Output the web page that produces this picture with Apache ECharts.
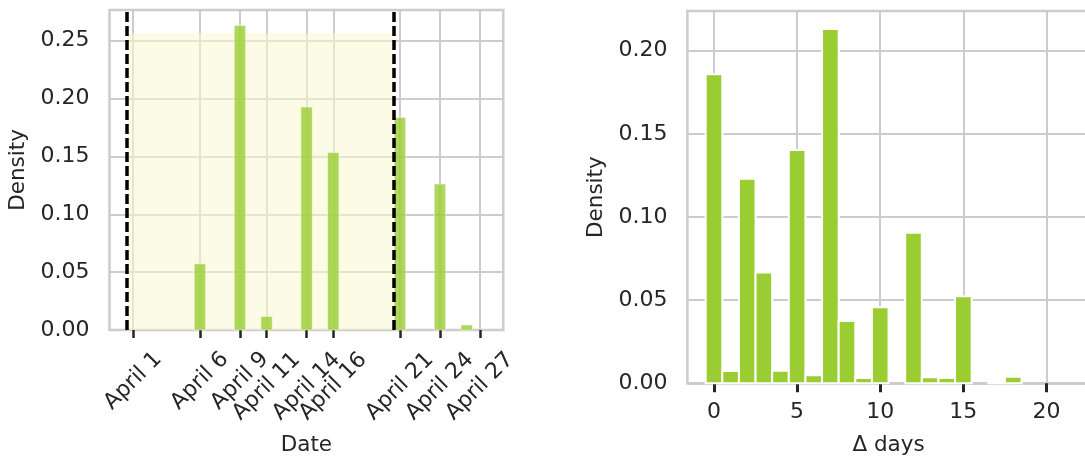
<!DOCTYPE html>
<html lang="en">
<head>
<meta charset="UTF-8">
<title>Density</title>
<style>
  html, body { margin: 0; padding: 0; background: #fff; }
  #main { width: 1085px; height: 458px; }
</style>
<script src="https://cdn.jsdelivr.net/npm/echarts@6/dist/echarts.min.js"></script>
</head>
<body>
<div id="main"></div>
<script>
// left panel: density per day of April
const dateDays = [6, 9, 11, 14, 16, 21, 24, 26];
const dateDensity = [0.0572, 0.2632, 0.0117, 0.1926, 0.1534, 0.1837, 0.1261, 0.0043];
const dateTicks = [1, 6, 9, 11, 14, 16, 21, 24, 27];
const windowStart = 0.55;
const windowEnd = 20.5;
const windowTop = 0.2564;

// right panel: density per delta in days
const deltaDays = [0, 1, 2, 3, 4, 5, 6, 7, 8, 9, 10, 11, 12, 13, 14, 15, 16, 17, 18, 19, 20, 21];
const deltaDensity = [0.1858, 0.0074, 0.1230, 0.0667, 0.0076, 0.1403, 0.0048, 0.2130, 0.0375, 0.0032,
  0.0457, 0, 0.0906, 0.0036, 0.0032, 0.0523, 0, 0.0010, 0.0040, 0, 0, 0];
const deltaTicks = [0, 5, 10, 15, 20];

const FONT = 'DejaVu Sans';
const TEXT = '#262626';
const GRID_LINE = '#cccccc';
const TICK_SIZE = 22;
const NAME_SIZE = 21.5;

const shortTicks = dateTicks.filter(d => d < 10);
const longTicks = dateTicks.filter(d => d >= 10);

function histItem(halfWidth, style) {
  return function (params, api) {
    const x = api.value(0), y = api.value(1);
    if (!y) return null;
    const a = api.coord([x - halfWidth, y]);
    const b = api.coord([x + halfWidth, 0]);
    return {
      type: 'rect',
      shape: { x: a[0], y: a[1], width: b[0] - a[0], height: b[1] - a[1] },
      style: style
    };
  };
}

const myChart = echarts.init(document.getElementById('main'));

const yAxisCommon = {
  type: 'value',
  min: 0,
  interval: 0.05,
  name: 'Density',
  nameLocation: 'middle',
  nameRotate: 90,
  nameGap: 80,
  nameTextStyle: { fontFamily: FONT, fontSize: NAME_SIZE, color: TEXT },
  axisLine: { show: false },
  axisTick: { show: false },
  axisLabel: { fontFamily: FONT, fontSize: TICK_SIZE, color: TEXT, margin: 20, showMaxLabel: false,
    formatter: v => v.toFixed(2) },
  splitLine: { show: true, lineStyle: { color: GRID_LINE, width: 2 } }
};

const option = {
  animation: false,
  backgroundColor: '#fff',
  grid: [
    { left: 109.5, top: 10, width: 393.8, height: 320, show: true, borderColor: GRID_LINE, borderWidth: 2.5,
      containLabel: false, outerBoundsMode: 'none' },
    { left: 687.4, top: 11, width: 402.3, height: 372.3, show: true, borderColor: GRID_LINE, borderWidth: 2.5,
      containLabel: false, outerBoundsMode: 'none' }
  ],
  xAxis: [
    {
      type: 'value', gridIndex: 0, position: 'bottom', min: -0.78, max: 28.75,
      name: 'Date', nameLocation: 'middle', nameGap: 104,
      nameTextStyle: { fontFamily: FONT, fontSize: NAME_SIZE, color: TEXT },
      axisLine: { show: false },
      axisTick: { show: true, customValues: dateTicks, length: 8, lineStyle: { color: TEXT, width: 2.5 } },
      axisLabel: { customValues: shortTicks, rotate: 45, align: 'center', verticalAlign: 'middle', margin: 51,
        fontFamily: FONT, fontSize: TICK_SIZE, color: TEXT, formatter: v => 'April ' + v },
      splitLine: { show: true, lineStyle: { color: GRID_LINE, width: 2 } }
    },
    {
      type: 'value', gridIndex: 0, position: 'bottom', min: -0.78, max: 28.75,
      axisLine: { show: false },
      axisTick: { show: false },
      axisLabel: { customValues: longTicks, rotate: 45, align: 'center', verticalAlign: 'middle', margin: 56.5,
        fontFamily: FONT, fontSize: TICK_SIZE, color: TEXT, formatter: v => 'April ' + v },
      splitLine: { show: false }
    },
    {
      type: 'value', gridIndex: 1, position: 'bottom', min: -1.6, max: 22.6,
      name: 'Δ days', nameLocation: 'middle', nameGap: 51,
      nameTextStyle: { fontFamily: FONT, fontSize: NAME_SIZE, color: TEXT },
      axisLine: { show: false },
      axisTick: { show: true, customValues: deltaTicks, length: 9, lineStyle: { color: TEXT, width: 3 } },
      axisLabel: { customValues: deltaTicks, margin: 18, fontFamily: FONT, fontSize: TICK_SIZE, color: TEXT },
      splitLine: { show: true, lineStyle: { color: GRID_LINE, width: 2 } }
    }
  ],
  yAxis: [
    Object.assign({}, yAxisCommon, { gridIndex: 0, max: 0.2765 }),
    Object.assign({}, yAxisCommon, { gridIndex: 1, max: 0.2239 })
  ],
  series: [
    {
      type: 'custom', xAxisIndex: 0, yAxisIndex: 0, z: 1, silent: true,
      renderItem: function (params, api) {
        const a = api.coord([api.value(0), api.value(2)]);
        const b = api.coord([api.value(1), 0]);
        return {
          type: 'rect',
          shape: { x: a[0], y: a[1], width: b[0] - a[0], height: b[1] - a[1] },
          style: { fill: 'rgba(250,250,210,0.55)' }
        };
      },
      data: [[windowStart, windowEnd, windowTop]]
    },
    {
      type: 'custom', xAxisIndex: 0, yAxisIndex: 0, z: 2,
      encode: { x: 0, y: 1 },
      renderItem: histItem(0.43, { fill: 'rgba(154,205,50,0.8)', stroke: 'rgba(255,255,255,0.5)', lineWidth: 1 }),
      data: dateDays.map((d, i) => [d, dateDensity[i]]),
      markLine: {
        silent: true, symbol: 'none', z: 5,
        label: { show: false },
        lineStyle: { color: '#000', width: 3.5, type: [10, 4] },
        data: [{ xAxis: windowStart }, { xAxis: windowEnd }]
      }
    },
    {
      type: 'custom', xAxisIndex: 2, yAxisIndex: 1, z: 2,
      encode: { x: 0, y: 1 },
      renderItem: histItem(0.5, { fill: '#9acd32', stroke: '#ffffff', lineWidth: 2 }),
      data: deltaDays.map((d, i) => [d, deltaDensity[i]])
    }
  ]
};

myChart.setOption(option);
</script>
</body>
</html>
